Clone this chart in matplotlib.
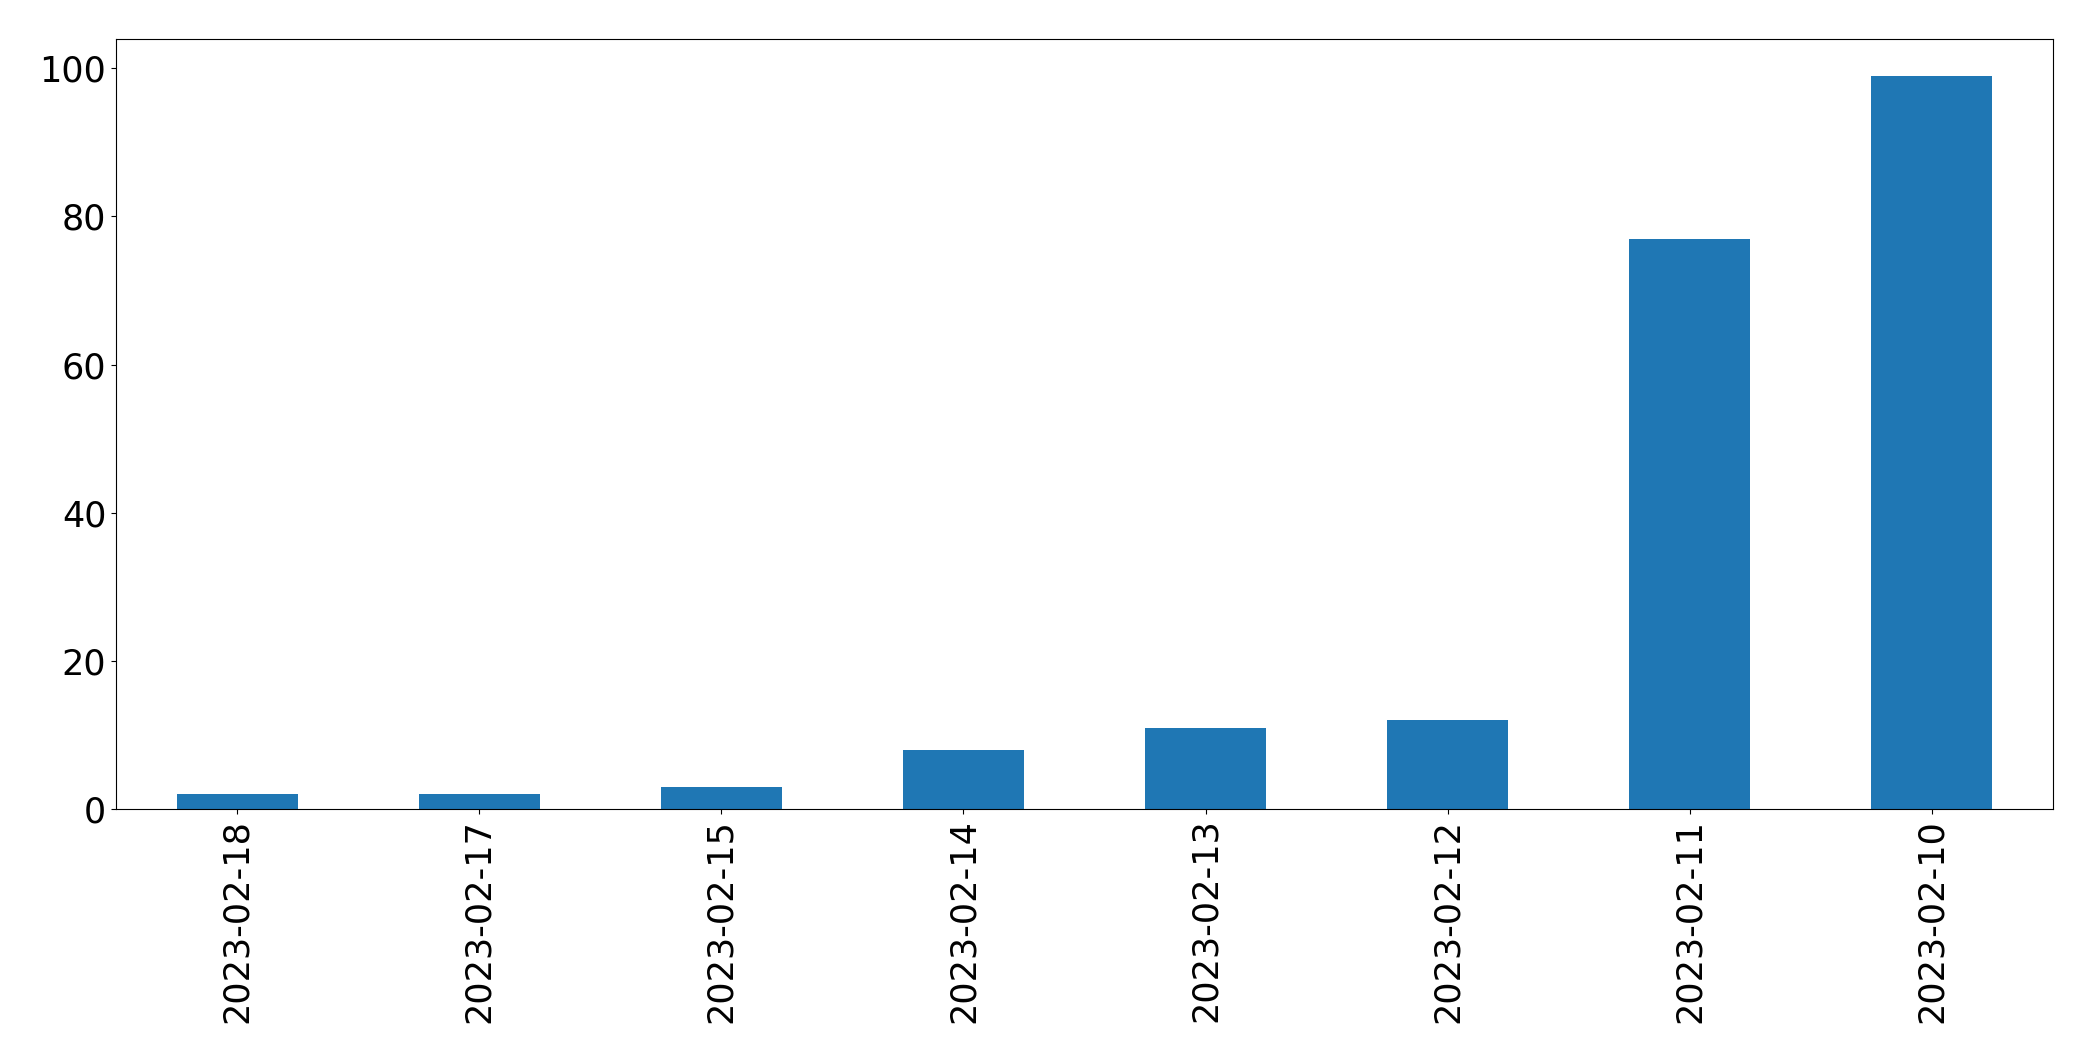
import matplotlib
matplotlib.use("Agg")
import pandas as pd
import matplotlib.pyplot as plt

# data
dates = ["2023-02-18", "2023-02-17", "2023-02-15", "2023-02-14",
         "2023-02-13", "2023-02-12", "2023-02-11", "2023-02-10"]
counts = [2, 2, 3, 8, 11, 12, 77, 99]

s = pd.Series(counts, index=dates)

fig = plt.figure(figsize=(20.93, 10.61), dpi=100)
ax = fig.add_axes([116 / 2093, 1 - 809 / 1061, (2053 - 116) / 2093, (809 - 39) / 1061])

s.plot(kind="bar", ax=ax, color="#1f77b4", fontsize=25.2)
ax.set_ylim(0, max(counts) * 1.05)

fig.savefig("out.png", dpi=100)
